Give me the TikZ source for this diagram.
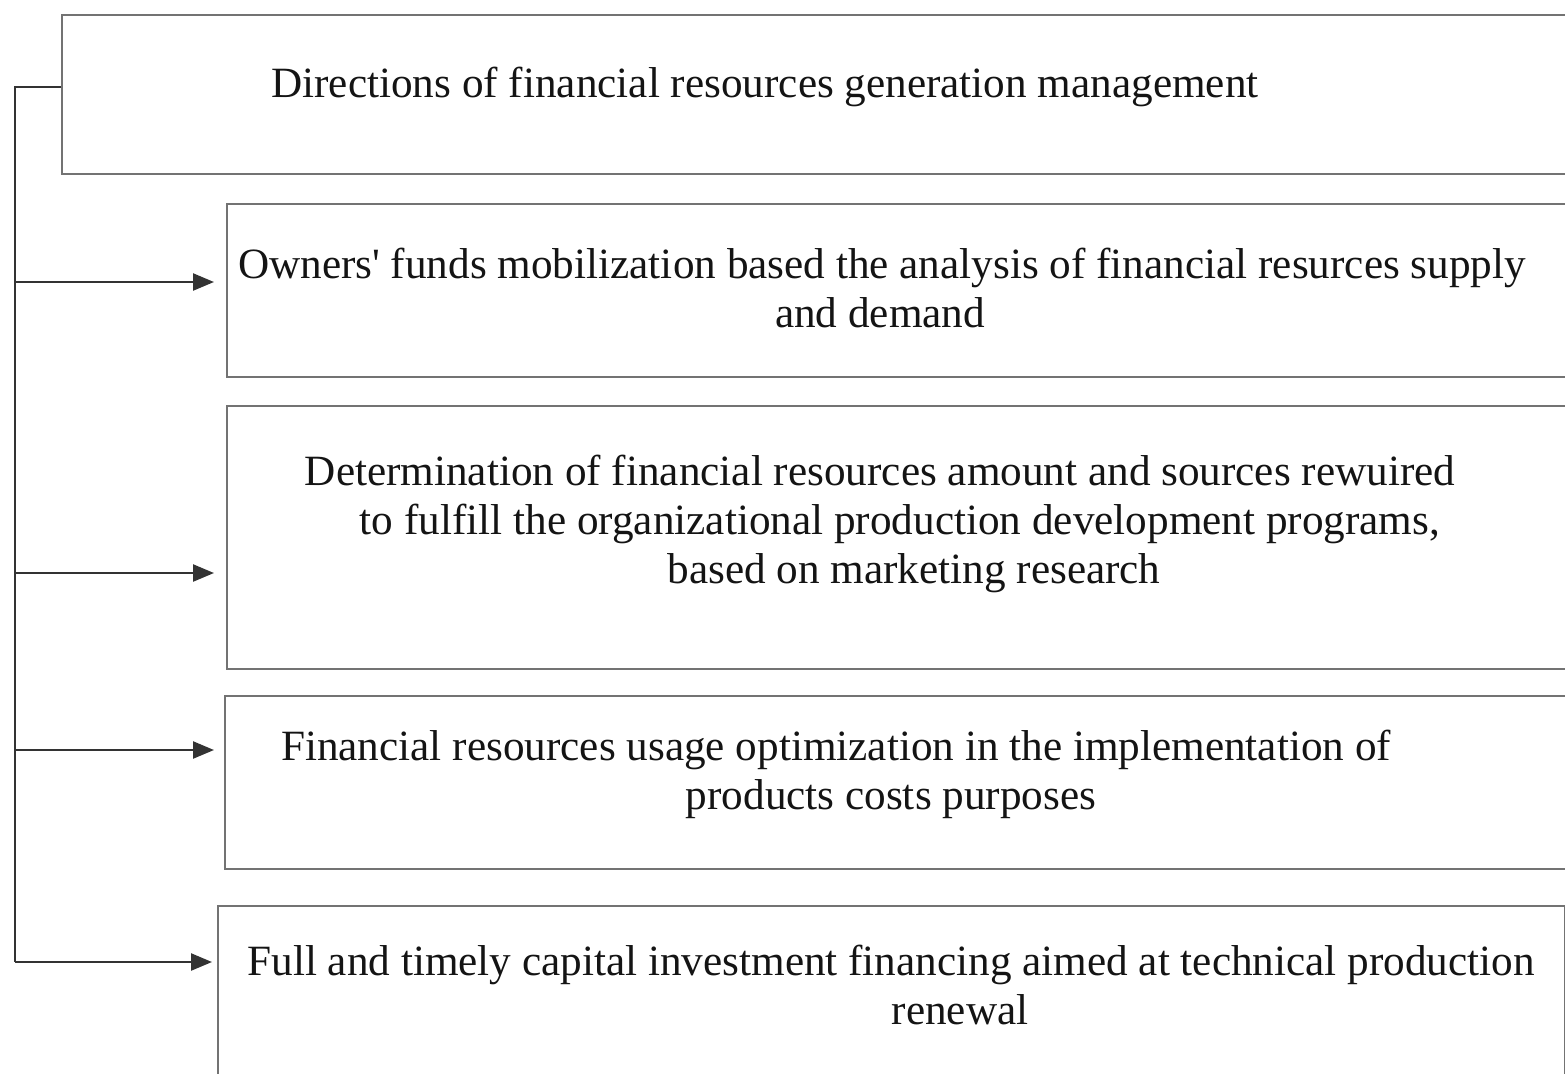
\documentclass[tikz,border=0pt]{standalone}
\usepackage{fontspec}
\setmainfont{Liberation Serif}[Ligatures=TeXOff]
\usetikzlibrary{arrows.meta,calc}
\begin{document}
\begin{tikzpicture}[x=0.5pt,y=-0.5pt,
  box/.style={draw=black!55,line width=1.2pt,rectangle,anchor=north west,inner sep=0pt},
  txt/.style={anchor=base,inner sep=0pt,font=\fontsize{21.6}{25}\selectfont,text=black!92},
  conn/.style={draw=black!80,line width=1.2pt},
  arr/.style={conn,-{Triangle[length=10.5pt,width=8.5pt]}}]
\useasboundingbox (0,0) rectangle (1565,1073);
\clip (0,0) rectangle (1565,1073);
\fill[white] (0,0) rectangle (1565,1073);
% boxes
\node[box,minimum width=754.5pt,minimum height=79.5pt] (b1) at (61,14) {};
\node[box,minimum width=672pt,minimum height=86.5pt] (b2) at (226,203) {};
\node[box,minimum width=672pt,minimum height=131.5pt] (b3) at (226,405) {};
\node[box,minimum width=673pt,minimum height=86.5pt] (b4) at (224,695) {};
\node[box,minimum width=673.5pt,minimum height=95pt] (b5) at (217,905) {};
% texts
\node[txt] (t1) at (765,97) {Directions of financial resources generation management};
\node[txt] (t2a) at (882,278) {Owners' funds mobilization based the analysis of financial resurces supply};
\node[txt] (t2b) at (880,327) {and demand};
\node[txt] (t3a) at (880,485) {Determination of financial resources amount and sources rewuired};
\node[txt] (t3b) at (900,534) {to fulfill the organizational production development programs,};
\node[txt] (t3c) at (914,583) {based on marketing research};
\node[txt] (t4a) at (836,760) {Financial resources usage optimization in the implementation of};
\node[txt] (t4b) at (891,809) {products costs purposes};
\node[txt] (t5a) at (891,975) {Full and timely capital investment financing aimed at technical production};
\node[txt] (t5b) at (960,1024) {renewal};
% connectors
\coordinate (j0) at (15,87);
\coordinate (j1) at (15,282);
\coordinate (j2) at (15,573);
\coordinate (j3) at (15,750);
\coordinate (j4) at (15,962);
\draw[conn] (b1.west |- j0) -- (j0) -- (j4);
\draw[arr] (j1) -- ($(b2.west |- j1)+(-12,0)$);
\draw[arr] (j2) -- ($(b3.west |- j2)+(-12,0)$);
\draw[arr] (j3) -- ($(b4.west |- j3)+(-10,0)$);
\draw[arr] (j4) -- ($(b5.west |- j4)+(-5,0)$);
\end{tikzpicture}
\end{document}
